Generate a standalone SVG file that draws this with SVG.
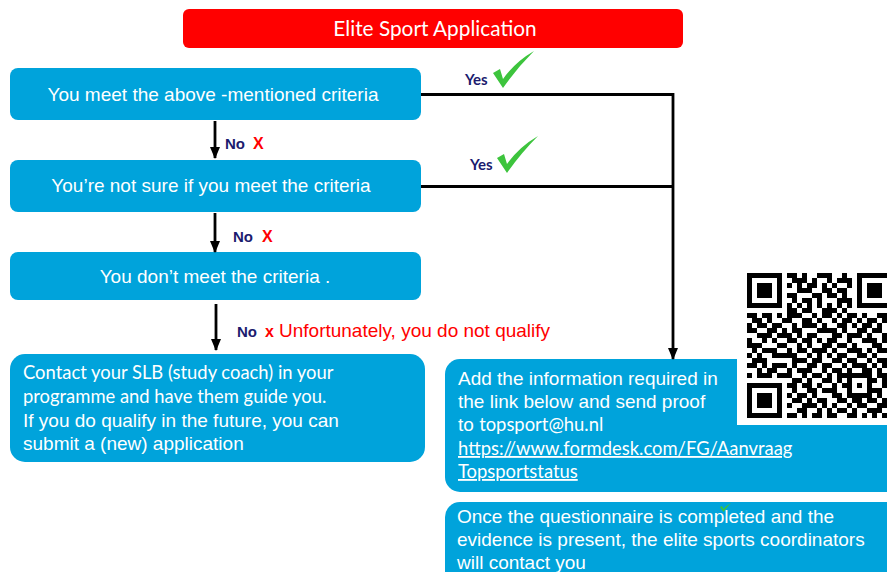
<svg xmlns="http://www.w3.org/2000/svg" width="887" height="572" viewBox="0 0 887 572">
<style>
.box{fill:#00A3DB}
.wt{fill:#fff;font-family:"Liberation Sans",Arial,sans-serif;font-size:19px}
.cal{fill:#fff;font-family:Lato,"Liberation Sans",sans-serif;font-size:18.4px}
.no{fill:#1B1B6E;font-family:"Liberation Sans",Arial,sans-serif;font-weight:bold;font-size:15px}
.x{fill:#FF0000;font-family:"Liberation Sans",Arial,sans-serif;font-weight:bold;font-size:16px}
.yes{fill:#1B1B6E;font-family:Lato,"Liberation Sans",sans-serif;font-weight:bold;font-size:15px}
.chk{fill:#3DC43D}
.ln{fill:none;stroke:#000;stroke-width:2.8}
</style>
<defs>
<marker id="ah" markerUnits="userSpaceOnUse" markerWidth="12" markerHeight="12" viewBox="0 0 12 12" refX="11" refY="6" orient="auto">
<path d="M0,1 L12,6 L0,11 Z" fill="#000"/>
</marker>
</defs>
<rect width="887" height="572" fill="#fff"/>

<g id="title">
<rect x="183" y="9" width="500" height="39" rx="6" fill="#FF0000"/>
<text x="435" y="36" text-anchor="middle" font-family="Lato,'Liberation Sans',sans-serif" font-size="20.8" fill="#fff">Elite Sport Application</text>
</g>

<g id="n1">
<rect class="box" x="10" y="68" width="411" height="52" rx="8"/>
<text class="wt" x="213" y="101" text-anchor="middle">You meet the above -mentioned criteria</text>
</g>
<g id="n2">
<rect class="box" x="10" y="160" width="411" height="52" rx="8"/>
<text class="wt" x="211" y="192" text-anchor="middle">You’re not sure if you meet the criteria</text>
</g>
<g id="n3">
<rect class="box" x="10" y="252" width="411" height="48" rx="8"/>
<text class="wt" x="215" y="283" text-anchor="middle">You don’t meet the criteria .</text>
</g>

<g id="n4">
<rect class="box" x="10" y="354" width="415" height="108" rx="15"/>
<text class="cal" x="23" y="379">Contact your SLB (study coach) in your</text>
<text class="cal" x="23" y="403">programme and have them guide you.</text>
<text class="wt" x="23" y="427">If you do qualify in the future, you can</text>
<text class="wt" x="23" y="450">submit a (new) application</text>
</g>

<g id="n5">
<rect class="box" x="445" y="359" width="460" height="133" rx="15"/>
<text class="wt" x="458" y="385">Add the information required in</text>
<text class="wt" x="458" y="408">the link below and send proof</text>
<text class="wt" x="458" y="431">to <tspan class="cal">topsport@hu.nl</tspan></text>
<text class="cal" x="458" y="455" text-decoration="underline">https://www.formdesk.com/FG/Aanvraag</text>
<text class="cal" x="458" y="478" text-decoration="underline">Topsportstatus</text>
</g>

<g id="qr">
<rect x="737" y="266" width="150" height="159" fill="#fff"/>
<g fill="none" stroke="#000" stroke-width="5">
<rect x="749.5" y="275.5" width="30" height="30"/>
<rect x="859.5" y="275.5" width="30" height="30"/>
<rect x="749.5" y="385.5" width="30" height="30"/>
</g>
<g fill="#000">
<rect x="757" y="283" width="15" height="15"/>
<rect x="867" y="283" width="15" height="15"/>
<rect x="757" y="393" width="15" height="15"/>
</g>
<path fill="none" stroke="#000" stroke-width="5" d="M787 275.5h10M802 275.5h5M817 275.5h15M842 275.5h5M792 280.5h15M812 280.5h5M827 280.5h5M837 280.5h15M787 285.5h5M797 285.5h5M807 285.5h10M822 285.5h5M832 285.5h5M847 285.5h5M797 290.5h15M822 290.5h10M837 290.5h10M787 295.5h10M812 295.5h10M827 295.5h10M842 295.5h5M792 300.5h5M802 300.5h10M817 300.5h5M837 300.5h15M787 305.5h5M797 305.5h5M807 305.5h5M817 305.5h5M827 305.5h5M837 305.5h5M847 305.5h5M787 310.5h10M802 310.5h10M822 310.5h15M842 310.5h5M747 315.5h10M762 315.5h10M777 315.5h5M787 315.5h15M812 315.5h5M822 315.5h10M837 315.5h5M847 315.5h10M862 315.5h5M877 315.5h15M752 320.5h10M767 320.5h5M782 320.5h10M802 320.5h10M817 320.5h5M832 320.5h5M842 320.5h10M857 320.5h5M867 320.5h10M882 320.5h5M747 325.5h5M757 325.5h10M772 325.5h10M792 325.5h5M802 325.5h15M822 325.5h5M837 325.5h10M852 325.5h5M862 325.5h10M877 325.5h5M887 325.5h5M747 330.5h10M767 330.5h10M782 330.5h5M792 330.5h10M817 330.5h20M842 330.5h5M857 330.5h10M872 330.5h10M757 335.5h15M777 335.5h15M797 335.5h5M807 335.5h10M832 335.5h10M847 335.5h15M867 335.5h5M882 335.5h10M747 340.5h5M762 340.5h5M772 340.5h5M787 340.5h10M802 340.5h10M817 340.5h5M827 340.5h10M847 340.5h5M862 340.5h15M882 340.5h5M747 345.5h15M777 345.5h10M797 345.5h5M807 345.5h5M822 345.5h10M837 345.5h10M852 345.5h5M872 345.5h10M887 345.5h5M752 350.5h5M762 350.5h15M787 350.5h5M797 350.5h10M812 350.5h15M832 350.5h5M847 350.5h15M867 350.5h5M877 350.5h10M747 355.5h5M757 355.5h5M772 355.5h25M807 355.5h5M817 355.5h5M827 355.5h5M837 355.5h10M857 355.5h10M872 355.5h5M887 355.5h5M752 360.5h15M792 360.5h15M812 360.5h10M832 360.5h10M847 360.5h10M867 360.5h5M877 360.5h15M747 365.5h10M762 365.5h5M772 365.5h15M792 365.5h5M807 365.5h10M822 365.5h10M842 365.5h5M852 365.5h15M872 365.5h5M882 365.5h5M757 370.5h5M767 370.5h10M787 370.5h5M797 370.5h15M822 370.5h5M832 370.5h10M847 370.5h5M862 370.5h10M877 370.5h5M887 370.5h5M747 375.5h5M757 375.5h15M777 375.5h15M802 375.5h5M812 375.5h10M827 375.5h5M837 375.5h35M877 375.5h10M792 380.5h10M807 380.5h5M822 380.5h10M837 380.5h5M847 380.5h5M867 380.5h10M882 380.5h10M787 385.5h10M802 385.5h10M817 385.5h5M832 385.5h5M842 385.5h10M857 385.5h5M867 385.5h5M882 385.5h10M792 390.5h5M807 390.5h10M822 390.5h15M847 390.5h5M867 390.5h15M887 390.5h5M787 395.5h5M797 395.5h10M812 395.5h5M832 395.5h10M847 395.5h25M877 395.5h5M792 400.5h10M807 400.5h5M817 400.5h10M837 400.5h10M852 400.5h10M867 400.5h10M882 400.5h5M787 405.5h5M802 405.5h15M822 405.5h5M832 405.5h5M847 405.5h5M857 405.5h10M877 405.5h15M797 410.5h10M817 410.5h5M827 410.5h5M837 410.5h10M852 410.5h5M867 410.5h15M787 415.5h10M802 415.5h5M812 415.5h10M827 415.5h10M847 415.5h10M862 415.5h5M872 415.5h5M882 415.5h10"/>
</g>

<g id="n6">
<rect class="box" x="445" y="502" width="460" height="90" rx="15"/>
<text class="wt" x="457" y="523">Once the questionnaire is completed and the</text>
<text class="wt" x="457" y="546">evidence is present, the elite sports coordinators</text>
<text class="wt" x="457" y="569">will contact you</text>
<path class="chk" d="M720,507 L722,506 L723.5,509 Q727,505 731,503 Q727,507 723.5,512 Z"/>
</g>

<g id="connectors">
<path class="ln" d="M215 121V158" marker-end="url(#ah)"/>
<path class="ln" d="M215 213V252" marker-end="url(#ah)"/>
<path class="ln" d="M216 304V350" marker-end="url(#ah)"/>
<path class="ln" d="M421 94.5H673V359" marker-end="url(#ah)"/>
<path class="ln" d="M421 186.5H673"/>
</g>

<g id="labels">
<text class="yes" x="465" y="85">Yes</text>
<path class="chk" d="M493,73 L500,69 L503,79 Q515,62 534,51 Q517,68 503,88 Z"/>
<text class="yes" x="470" y="170">Yes</text>
<path class="chk" d="M497,158 L504,154 L507,164 Q519,147 538,136 Q521,153 507,173 Z"/>
<text class="no" x="225" y="149">No</text>
<text class="x" x="253" y="149">X</text>
<text class="no" x="233" y="242">No</text>
<text class="x" x="262" y="242">X</text>
<text class="no" x="237" y="337">No</text>
<text class="x" x="265" y="337">x</text>
<text x="279" y="337" font-family="'Liberation Sans',Arial,sans-serif" font-size="19" fill="#FF0000">Unfortunately, you do not qualify</text>
</g>
</svg>
